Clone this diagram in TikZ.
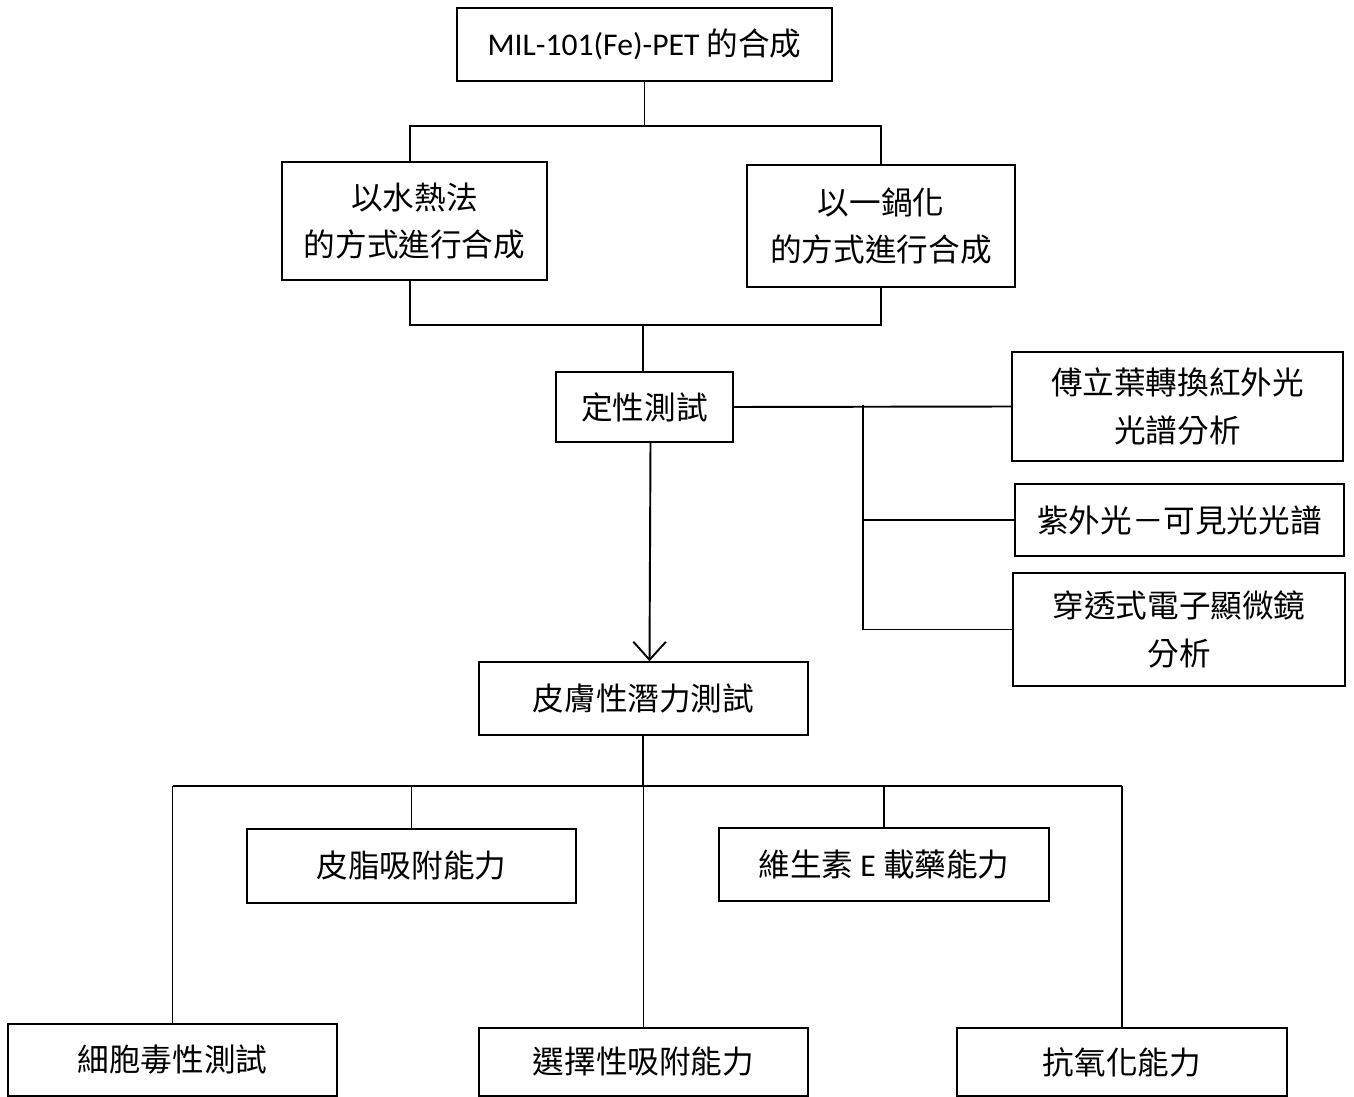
\documentclass[tikz,border=0pt]{standalone}
\usepackage{fontspec}
\setmainfont{Carlito}
\newfontfamily\cjk{Noto Sans CJK TC}
\usetikzlibrary{arrows.meta}
\begin{document}
\begin{tikzpicture}[x=0.02cm,y=-0.02cm,
  conn/.style={line width=1.1pt},
  box/.style={draw, line width=0.9pt, font=\cjk\fontsize{18}{27}\selectfont, align=center, inner sep=0pt}]
\useasboundingbox (0,0) rectangle (1354,1097);
% boxes
\node[box, minimum width=7.5cm, minimum height=1.46cm] (top) at (644.5,44.5) {{\rmfamily MIL-101(Fe)-PET} 的合成};
\node[box, minimum width=5.3cm, minimum height=2.36cm] (hydro) at (414.5,221) {以水熱法\\的方式進行合成};
\node[box, minimum width=5.36cm, minimum height=2.44cm] (onepot) at (881,226) {以一鍋化\\的方式進行合成};
\node[box, minimum width=3.54cm, minimum height=1.4cm] (qual) at (644.5,407) {定性測試};
\node[box, minimum width=6.62cm, minimum height=2.18cm] (ftir) at (1177.5,406.5) {傅立葉轉換紅外光\\光譜分析};
\node[box, minimum width=6.58cm, minimum height=1.44cm] (uv) at (1179.5,520) {紫外光－可見光光譜};
\node[box, minimum width=6.64cm, minimum height=2.26cm] (tem) at (1179,629.5) {穿透式電子顯微鏡\\分析};
\node[box, minimum width=6.58cm, minimum height=1.46cm] (skin) at (643.5,698.5) {皮膚性潛力測試};
\node[box, minimum width=6.58cm, minimum height=1.48cm] (sebum) at (411.5,866) {皮脂吸附能力};
\node[box, minimum width=6.6cm, minimum height=1.46cm] (vite) at (884,864.5) {維生素 {\rmfamily E} 載藥能力};
\node[box, minimum width=6.58cm, minimum height=1.44cm] (cyto) at (172.5,1060) {細胞毒性測試};
\node[box, minimum width=6.58cm, minimum height=1.36cm] (select) at (643.5,1062) {選擇性吸附能力};
\node[box, minimum width=6.6cm, minimum height=1.36cm] (anti) at (1122,1062) {抗氧化能力};
% junction coordinates
\coordinate (j1) at (643,126);
\coordinate (j2) at (643,325);
\coordinate (j3) at (863,405);
\coordinate (j4) at (643,786);
% top split
\draw[conn] (top.south) -- (top.south |- j1);
\draw[conn] ([xshift=-0.09cm]hydro.north) -- ([xshift=-0.09cm]hydro.north |- j1) -- (onepot.north |- j1) -- (onepot.north);
% merge
\draw[conn] ([xshift=-0.09cm]hydro.south) -- ([xshift=-0.09cm]hydro.south |- j2) -- (onepot.south |- j2) -- (onepot.south);
\draw[conn] (j2) -- (qual.north -| j2);
% qualitative tests
\draw[conn] (qual.east) -- (ftir.west);
\draw[conn] (j3) -- (j3 |- tem.west);
\draw[conn] (j3 |- uv.west) -- (uv.west);
\draw[conn] (j3 |- tem.west) -- (tem.west);
% arrow
\draw[conn, -{Straight Barb[length=3.6mm,width=6.5mm]}] ([xshift=0.12cm]qual.south) -- ([xshift=0.12cm]skin.north);
% bottom split
\draw[conn] (skin.south -| j4) -- (j4);
\draw[conn] (cyto.north |- j4) -- (anti.north |- j4);
\draw[conn] (sebum.north |- j4) -- (sebum.north);
\draw[conn] (vite.north |- j4) -- (vite.north);
\draw[conn] (cyto.north |- j4) -- (cyto.north);
\draw[conn] (select.north |- j4) -- (select.north);
\draw[conn] (anti.north |- j4) -- (anti.north);
\end{tikzpicture}
\end{document}
